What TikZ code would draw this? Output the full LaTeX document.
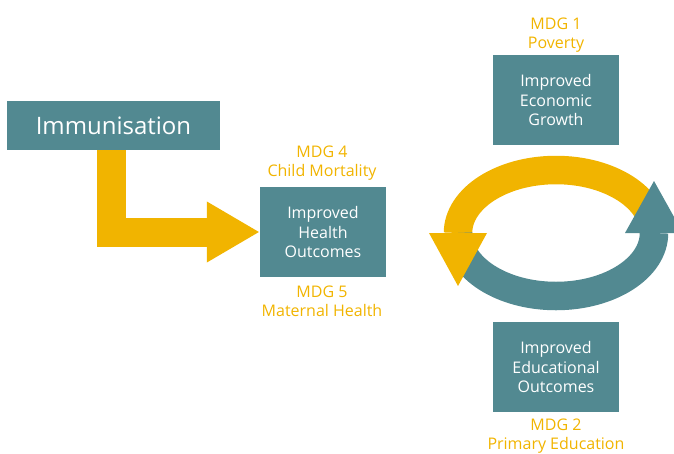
\documentclass[tikz,border=0pt]{standalone}
\usepackage{fontspec}
\setmainfont{Open Sans}
\usepackage{tikz}
\usetikzlibrary{arrows.meta}
\definecolor{mdgteal}{HTML}{528991}
\definecolor{mdgyellow}{HTML}{F1B400}
\tikzset{
	outcome/.style={fill=mdgteal, text=white, minimum width=126pt, minimum height=90pt,
		inner sep=0pt, align=center, font=\fontsize{16}{19.3}\selectfont},
	goal/.style={text=mdgyellow, inner sep=0pt, align=center, font=\fontsize{16}{19}\selectfont},
	band/.style={line width=28.5pt},
}

\begin{document}
\begin{tikzpicture}[x=1pt, y=-1pt]
	\useasboundingbox (0,0) rectangle (674,453);
	\clip (0,0) rectangle (674,453);
	\node[fill=mdgteal, text=white, minimum width=213pt, minimum height=49pt, inner sep=0pt,
		font=\fontsize{24}{28}\selectfont] (imm) at (113.5,125.5) {Immunisation};
	\node[outcome] (health) at (323,232) {Improved\\Health\\Outcomes};
	\node[outcome] (econ) at (556,100) {Improved\\Economic\\Growth};
	\node[outcome] (edu) at (556,367) {Improved\\Educational\\Outcomes};
	\node[goal] (mdg4) at (322,163) {MDG 4\\Child Mortality};
	\node[goal] (mdg5) at (322,301) {MDG 5\\Maternal Health};
	\node[goal] (mdg1) at (556,35) {MDG 1\\Poverty};
	\node[goal] (mdg2) at (556,436.5) {MDG 2\\Primary Education};
	% immunisation leads to health
	\draw[line width=29pt, mdgyellow, -{Triangle[width=57pt, length=53pt]}]
		([xshift=-2pt]imm.south) |- (health.west);
	% cycle between growth and education
	\coordinate (cycE) at (654,233);
	\coordinate (cycW) at (458,233);
	\draw[band, mdgyellow] (cycE) arc[start angle=0, end angle=180, x radius=98pt, y radius=63pt];
	\draw[band, mdgteal] (cycW) arc[start angle=180, end angle=360, x radius=98pt, y radius=63pt];
	\fill[mdgyellow] ([xshift=-29pt]cycW) -- ([xshift=29pt]cycW) -- ([yshift=-53pt]cycW) -- cycle;
	\fill[mdgteal] ([xshift=-29pt]cycE) -- ([xshift=29pt]cycE) -- ([yshift=52pt]cycE) -- cycle;
\end{tikzpicture}
\end{document}
